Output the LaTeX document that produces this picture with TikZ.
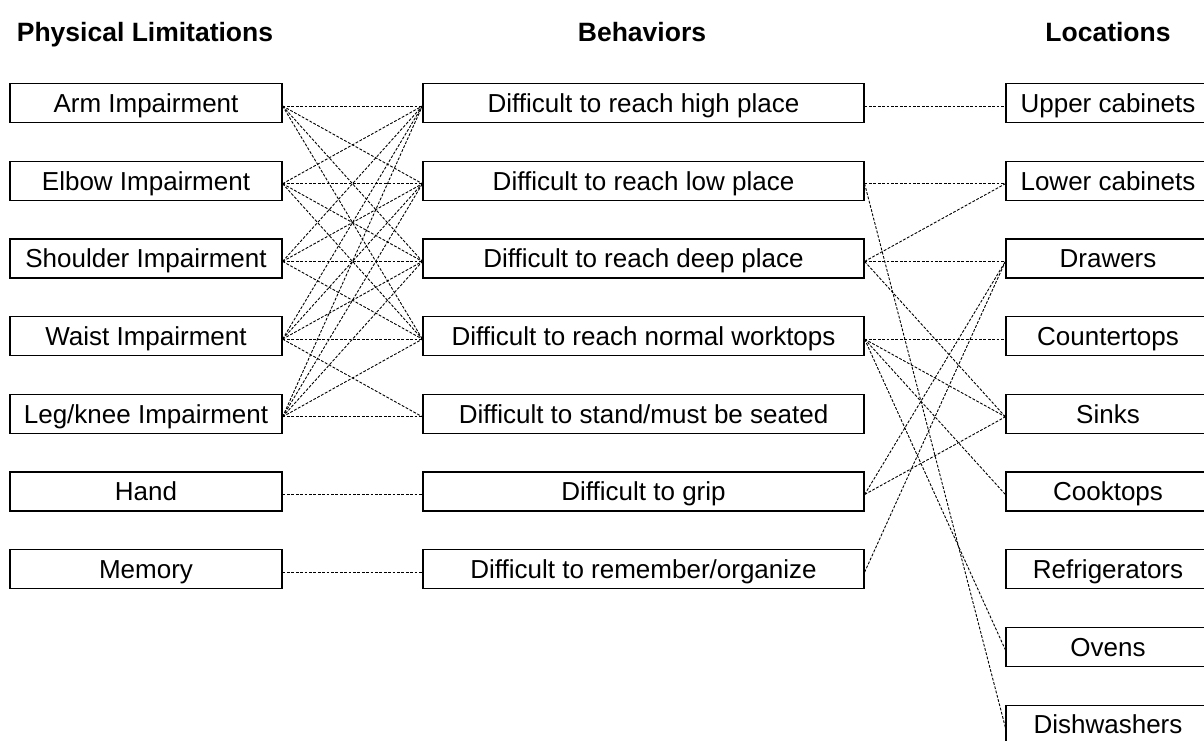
\documentclass[tikz,border=0pt]{standalone}
\usepackage{fontspec}
\setmainfont{Liberation Sans}
\newcommand\linkAB[2]{\draw[conn] ([yshift=-3pt]#1.east) -- ([yshift=-3pt]#2.west);}
\begin{document}
\begin{tikzpicture}[x=1pt,y=-1pt,
  box/.style={draw, line width=1.2pt, inner sep=0pt, text height=18.7pt, text depth=0pt,
              minimum height=39pt, font=\fontsize{26}{30}\selectfont},
  lbox/.style={box, minimum width=272pt},
  mbox/.style={box, minimum width=441pt},
  rbox/.style={box, minimum width=204pt},
  head/.style={font=\bfseries\fontsize{26.5}{30}\selectfont, anchor=base, inner sep=0pt},
  conn/.style={line width=0.9pt, dash pattern=on 2.8pt off 1.6pt}]
\useasboundingbox (0,0) rectangle (1204,740);
\clip (0,0) rectangle (1204,740);
\fill[white] (0,0) rectangle (1204,740);
% headers
\node[head] (h1) at (145,41) {Physical Limitations};
\node[head] (h2) at (642,41) {Behaviors};
\node[head] (h3) at (1108,41) {Locations};
% left
\node[lbox] (L1) at (146,103)   {Arm Impairment};
\node[lbox] (L2) at (146,180.7) {Elbow Impairment};
\node[lbox] (L3) at (146,258.4) {Shoulder Impairment};
\node[lbox] (L4) at (146,336.1) {Waist Impairment};
\node[lbox] (L5) at (146,413.8) {Leg/knee Impairment};
\node[lbox] (L6) at (146,491.5) {Hand};
\node[lbox] (L7) at (146,569.2) {Memory};
% middle
\node[mbox] (M1) at (643.5,103)   {Difficult to reach high place};
\node[mbox] (M2) at (643.5,180.7) {Difficult to reach low place};
\node[mbox] (M3) at (643.5,258.4) {Difficult to reach deep place};
\node[mbox] (M4) at (643.5,336.1) {Difficult to reach normal worktops};
\node[mbox] (M5) at (643.5,413.8) {Difficult to stand/must be seated};
\node[mbox] (M6) at (643.5,491.5) {Difficult to grip};
\node[mbox] (M7) at (643.5,569.2) {Difficult to remember/organize};
% right
\node[rbox] (R1) at (1108,103)   {Upper cabinets};
\node[rbox] (R2) at (1108,180.7) {Lower cabinets};
\node[rbox] (R3) at (1108,258.4) {Drawers};
\node[rbox] (R4) at (1108,336.1) {Countertops};
\node[rbox] (R5) at (1108,413.8) {Sinks};
\node[rbox] (R6) at (1108,491.5) {Cooktops};
\node[rbox] (R7) at (1108,569.2) {Refrigerators};
\node[rbox] (R8) at (1108,646.9) {Ovens};
\node[rbox] (R9) at (1108,724.6) {Dishwashers};
% left connections
\foreach \i in {1,...,5}{\foreach \j in {1,...,4}{\linkAB{L\i}{M\j}}}
\linkAB{L4}{M5}
\linkAB{L5}{M5}
\linkAB{L6}{M6}
\linkAB{L7}{M7}
% right connections
\linkAB{M1}{R1}
\linkAB{M2}{R2}
\linkAB{M2}{R9}
\linkAB{M3}{R2}
\linkAB{M3}{R3}
\linkAB{M3}{R5}
\linkAB{M4}{R4}
\linkAB{M4}{R5}
\linkAB{M4}{R6}
\linkAB{M4}{R8}
\linkAB{M6}{R3}
\linkAB{M6}{R5}
\linkAB{M7}{R3}
\end{tikzpicture}
\end{document}
